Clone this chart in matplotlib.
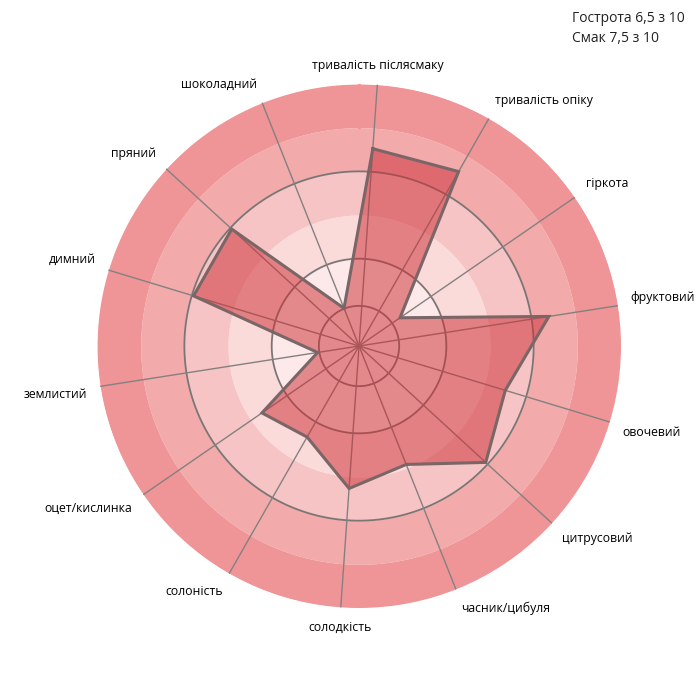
import numpy as np
import matplotlib
matplotlib.use("Agg")
import matplotlib.pyplot as plt

categories = ["тривалість післясмаку", "тривалість опіку", "гіркота", "фруктовий",
              "овочевий", "цитрусовий", "часник/цибуля", "солодкість", "солоність",
              "оцет/кислинка", "землистий", "димний", "пряний", "шоколадний"]
values = [4.53, 4.60, 1.14, 4.40, 3.50, 3.94, 2.92, 3.27, 2.40, 2.70, 0.96, 3.96, 3.96, 0.93]
band_edges = [0, 2, 3, 4, 5, 6]
band_colors = ["#fde9e9", "#fbdada", "#f7c4c5", "#f2aaab", "#f09597"]
circle_levels = [0.92, 2, 4]
info_lines = ["Гострота 6,5 з 10", "Смак 7,5 з 10"]

plt.rcParams['font.family'] = ['Open Sans', 'DejaVu Sans']

fig = plt.figure(figsize=(7, 6.86), dpi=100)
ax = fig.add_axes([0.1386, 0.1137, 0.7486, 0.7638], projection='polar')
ax.set_theta_direction(-1)
offset_deg = 86
ax.set_theta_offset(np.radians(offset_deg))
rmax = band_edges[-1]
ax.set_ylim(0, rmax)
ax.grid(False)
ax.set_xticks([])
ax.set_yticks([])
ax.spines['polar'].set_visible(False)
ax.patch.set_alpha(0)

n = len(categories)
angles = np.arange(n) * 2 * np.pi / n
tfine = np.linspace(0, 2 * np.pi, 400)

for r0, r1, c in zip(band_edges[:-1], band_edges[1:], band_colors):
    ax.fill_between(tfine, r0, r1, color=c, lw=0, zorder=1)

for lv in circle_levels:
    ax.plot(tfine, np.full_like(tfine, lv), color="#7b7676", lw=1.3, zorder=2)
for a in angles:
    ax.plot([a, a], [0, rmax], color="#858080", lw=1.0, zorder=2)

va_ = np.array(values + values[:1])
aa = np.concatenate([angles, angles[:1]])
ax.fill(aa, va_, color="#cc2f36", alpha=0.52, lw=0, zorder=3)
ax.plot(aa, va_, color="#7a6666", lw=2.2, zorder=4, solid_joinstyle='miter')

for a, lab in zip(angles, categories):
    phi = np.radians(offset_deg) - a
    x, y = np.cos(phi), np.sin(phi)
    if abs(x) < 0.08:
        ha = 'center'
    elif x > 0:
        ha = 'left'
    else:
        ha = 'right'
    if abs(y) < 0.08:
        vert = 'center'
    elif y > 0:
        vert = 'bottom'
    else:
        vert = 'top'
    ax.text(a, 6.3, lab, ha=ha, va=vert, fontsize=8.8, color="#000000", zorder=5)

fig.text(572 / 700, 1 - 18 / 686, info_lines[0], ha='left', va='center', fontsize=10, color="#222222")
fig.text(572 / 700, 1 - 38 / 686, info_lines[1], ha='left', va='center', fontsize=10, color="#222222")

fig.savefig("out.png", dpi=100, facecolor="white")
